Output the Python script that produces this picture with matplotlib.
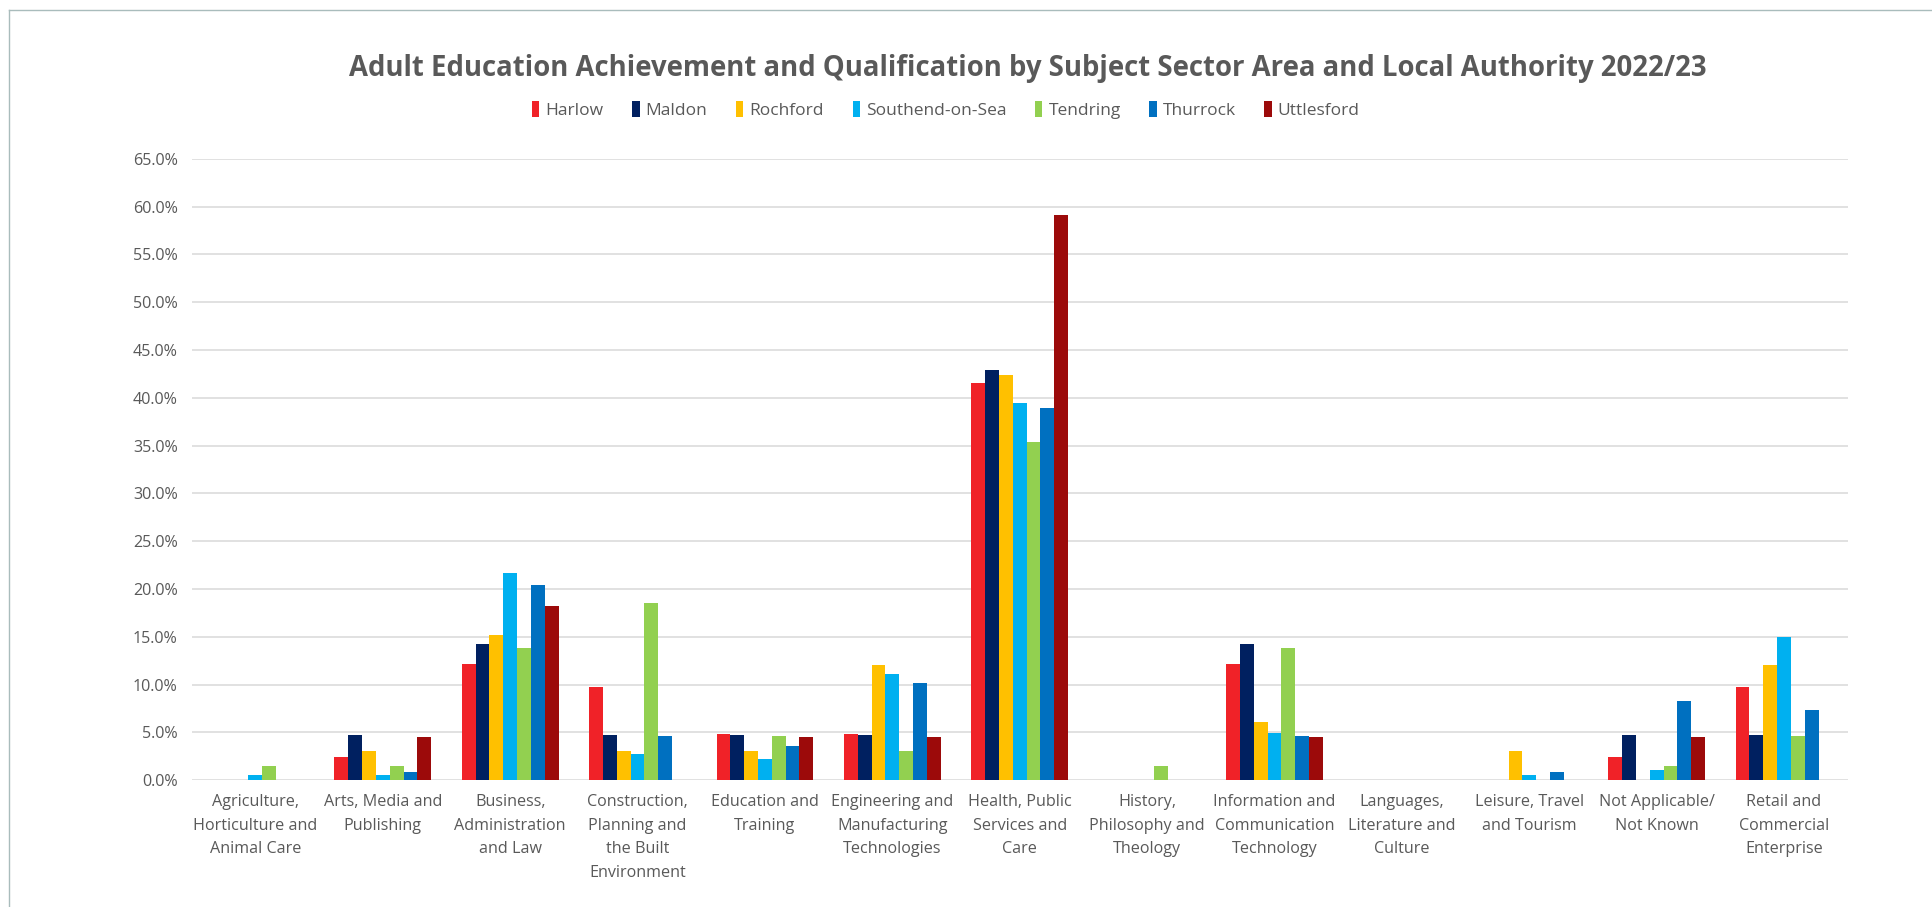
import numpy as np
import matplotlib
matplotlib.use("Agg")
from matplotlib import pyplot as plt
from matplotlib.patches import Patch
from matplotlib.lines import Line2D

# Subject sector areas (x axis), wrapped as in the source chart
categories = [
    "Agriculture,\nHorticulture and\nAnimal Care",
    "Arts, Media and\nPublishing",
    "Business,\nAdministration\nand Law",
    "Construction,\nPlanning and\nthe Built\nEnvironment",
    "Education and\nTraining",
    "Engineering and\nManufacturing\nTechnologies",
    "Health, Public\nServices and\nCare",
    "History,\nPhilosophy and\nTheology",
    "Information and\nCommunication\nTechnology",
    "Languages,\nLiterature and\nCulture",
    "Leisure, Travel\nand Tourism",
    "Not Applicable/\nNot Known",
    "Retail and\nCommercial\nEnterprise",
]

# Share of achievements (%) per local authority
harlow     = [0, 2.44, 12.2, 9.76, 4.88, 4.88, 41.5, 0, 12.2, 0, 0, 2.44, 9.76]
maldon     = [0, 4.76, 14.3, 4.76, 4.76, 4.76, 42.9, 0, 14.3, 0, 0, 4.76, 4.76]
rochford   = [0, 3.03, 15.2, 3.03, 3.03, 12.1, 42.4, 0, 6.06, 0, 3.03, 0, 12.1]
southend   = [0.55, 0.55, 21.7, 2.7, 2.2, 11.1, 39.5, 0, 4.95, 0, 0.55, 1.1, 15.0]
tendring   = [1.54, 1.54, 13.8, 18.5, 4.62, 3.08, 35.4, 1.54, 13.8, 0, 0, 1.54, 4.62]
thurrock   = [0, 0.87, 20.4, 4.6, 3.6, 10.2, 38.9, 0, 4.6, 0, 0.87, 8.3, 7.4]
uttlesford = [0, 4.55, 18.2, 0, 4.55, 4.55, 59.1, 0, 4.55, 0, 0, 4.55, 0]

authorities = ["Harlow", "Maldon", "Rochford", "Southend-on-Sea",
               "Tendring", "Thurrock", "Uttlesford"]
series = [harlow, maldon, rochford, southend, tendring, thurrock, uttlesford]
colors = ["#f02228", "#002060", "#ffc000", "#00b0f0",
          "#92d050", "#0070c0", "#9c0a0a"]

title = "Adult Education Achievement and Qualification by Subject Sector Area and Local Authority 2022/23"

FONT = "Open Sans"
TXT = "#595959"
plt.rcParams["font.family"] = [FONT, "DejaVu Sans"]

W, H = 1932, 907
fig = plt.figure(figsize=(W / 100, H / 100), dpi=100)
fig.patch.set_facecolor("white")

ax = fig.add_axes([191.7 / W, 1 - 780.3 / H, (1847.7 - 191.7) / W, (780.3 - 158.7) / H])

x = np.arange(len(categories))
bw = 0.1085
for i, (vals, c) in enumerate(zip(series, colors)):
    ax.bar(x + (i - 3) * bw, vals, width=bw, color=c, zorder=3, linewidth=0)

ax.set_xlim(-0.5, len(categories) - 0.5)
ax.set_ylim(0, 65)
ax.set_yticks(np.arange(0, 65.1, 5))
ax.set_yticklabels([f"{v:.1f}%" for v in np.arange(0, 65.1, 5)])
ax.set_xticks(x)
ax.set_xticklabels(categories, linespacing=1.62)
ax.tick_params(axis="both", length=0, labelcolor=TXT, labelsize=11.6)
ax.tick_params(axis="y", pad=10)
ax.tick_params(axis="x", pad=10)
ax.grid(axis="y", color="#d9d9d9", linewidth=1.1, zorder=0)
ax.set_axisbelow(True)
for s in ax.spines.values():
    s.set_visible(False)

# title and legend
fig.text(1027.5 / W, 1 - 68.5 / H, title, ha="center", va="center",
         fontsize=19.8, fontweight="bold", color=TXT)

handles = [Patch(facecolor=c, edgecolor="none") for c in colors]
fig.legend(handles, authorities, loc="center", bbox_to_anchor=(946 / W, 1 - 110 / H),
           ncol=7, frameon=False, fontsize=12.5, labelcolor=TXT,
           handlelength=0.42, handleheight=1.05, handletextpad=0.35,
           columnspacing=1.65)

# thin outer frame (left and top edges)
fig.add_artist(Line2D([9 / W, 9 / W], [0, 1 - 9.5 / H], color="#a9bcbc", linewidth=1.0))
fig.add_artist(Line2D([9 / W, 1], [1 - 9.5 / H, 1 - 9.5 / H], color="#a9bcbc", linewidth=1.0))

fig.savefig("out.png", dpi=100, facecolor="white")
